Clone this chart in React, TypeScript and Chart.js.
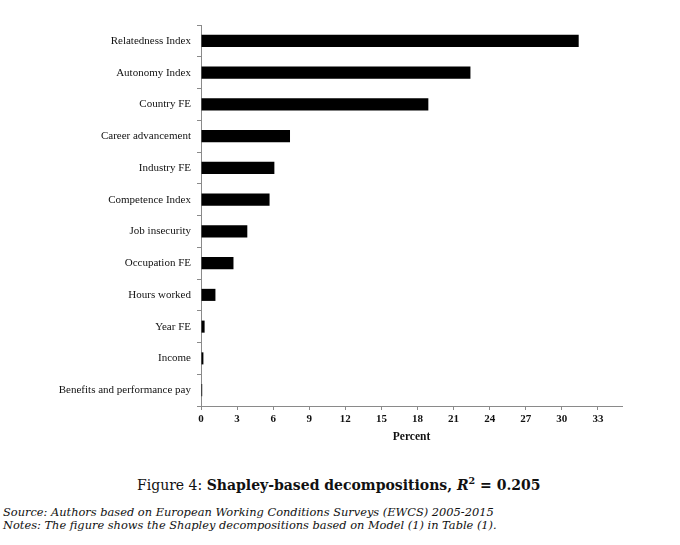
import { useEffect, useRef } from 'react';
import Chart from 'chart.js/auto';

// categories, top to bottom
const labels = [
  'Relatedness Index',
  'Autonomy Index',
  'Country FE',
  'Career advancement',
  'Industry FE',
  'Competence Index',
  'Job insecurity',
  'Occupation FE',
  'Hours worked',
  'Year FE',
  'Income',
  'Benefits and performance pay',
];

// Shapley share, percent
const shares = [31.4, 22.4, 18.9, 7.4, 6.1, 5.7, 3.85, 2.7, 1.2, 0.3, 0.2, 0.1];

const xMin = 0;
const xMax = 35;
const xStep = 3;

const axisGray = '#8a8a8a';

const App = () => {
  const chartRef = useRef<HTMLCanvasElement | null>(null);
  const chartInstance = useRef<Chart | null>(null);

  useEffect(() => {
    if (!chartRef.current) return;
    const ctx = chartRef.current.getContext('2d');
    if (!ctx) return;

    if (chartInstance.current) {
      chartInstance.current.destroy();
    }

    chartInstance.current = new Chart(ctx, {
      type: 'bar',
      data: {
        labels,
        datasets: [
          {
            label: 'Shapley share',
            data: shares,
            backgroundColor: '#000',
            borderWidth: 0,
            barPercentage: 0.38,
            categoryPercentage: 1,
          },
        ],
      },
      options: {
        indexAxis: 'y',
        responsive: false,
        animation: false,
        layout: { padding: { top: 25, right: 58, left: 0, bottom: 0 } },
        plugins: {
          legend: { display: false },
          tooltip: { enabled: false },
        },
        scales: {
          x: {
            min: xMin,
            max: xMax,
            afterFit: (scale: any) => {
              scale.height = 44;
            },
            ticks: {
              stepSize: xStep,
              includeBounds: false,
              color: '#111',
              padding: 3,
              maxRotation: 0,
              font: { family: '"Liberation Serif", serif', size: 11, weight: 'bold' },
            },
            grid: {
              drawOnChartArea: false,
              tickLength: 4,
              color: axisGray,
            },
            border: { color: axisGray, width: 1 },
            title: {
              display: true,
              text: 'Percent',
              color: '#111',
              padding: { top: 0, bottom: 6 },
              font: { family: '"Liberation Serif", serif', size: 11.5, weight: 'bold' },
            },
          },
          y: {
            afterFit: (scale: any) => {
              scale.width = 201;
            },
            ticks: {
              color: '#111',
              padding: 6,
              font: { family: '"Liberation Serif", serif', size: 11 },
            },
            grid: {
              offset: true,
              drawOnChartArea: false,
              tickLength: 4,
              color: axisGray,
            },
            border: { color: axisGray, width: 1 },
          },
        },
      },
    });

    return () => {
      if (chartInstance.current) {
        chartInstance.current.destroy();
        chartInstance.current = null;
      }
    };
  }, []);

  return (
    <div
      style={{
        position: 'absolute',
        left: 0,
        top: 0,
        width: 680,
        height: 545,
        background: '#fff',
        fontFamily: '"DejaVu Serif", serif',
        color: '#111',
      }}
    >
      <canvas ref={chartRef} width={680} height={450} style={{ display: 'block' }} />
      <div
        style={{
          position: 'absolute',
          top: 471,
          left: 137,
          width: 402,
          textAlign: 'center',
          fontSize: 14,
          lineHeight: '20px',
          whiteSpace: 'nowrap',
        }}
      >
        Figure 4: <b>Shapley-based decompositions, <i>R</i><sup style={{ fontSize: 9.5 }}>2</sup> = 0.205</b>
      </div>
      <div
        style={{
          position: 'absolute',
          top: 506,
          left: 3,
          fontSize: 11.4,
          lineHeight: '13px',
          fontStyle: 'italic',
          whiteSpace: 'nowrap',
        }}
      >
        <div>Source: Authors based on European Working Conditions Surveys (EWCS) 2005-2015</div>
        <div>Notes: The figure shows the Shapley decompositions based on Model (1) in Table (1).</div>
      </div>
    </div>
  );
};

export default App;
